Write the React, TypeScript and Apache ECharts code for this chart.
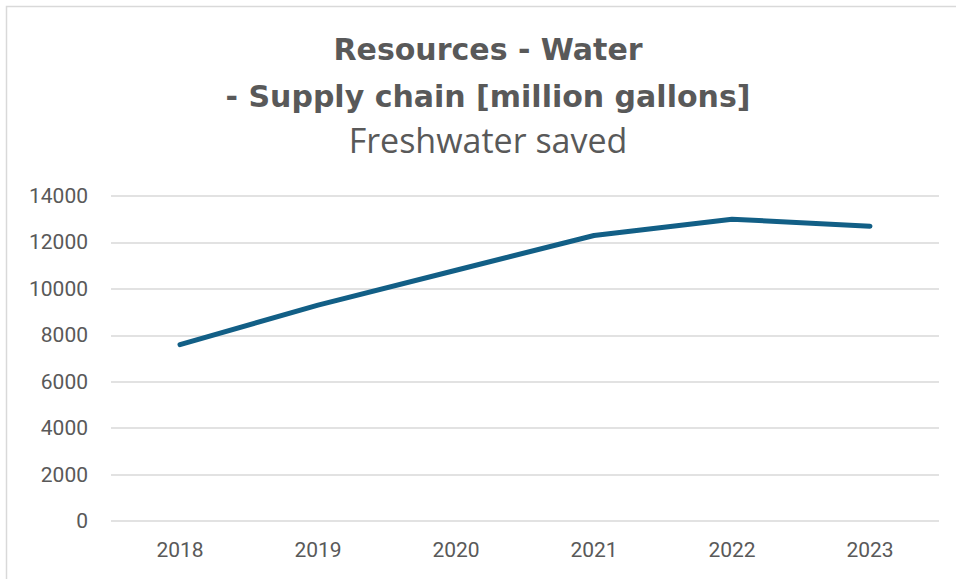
import React, { useEffect, useRef } from "react";
import * as echarts from "echarts";

const years = ["2018", "2019", "2020", "2021", "2022", "2023"];
const freshwaterSaved = [7600, 9300, 10800, 12300, 13000, 12700];
const titleLines = ["Resources - Water", "- Supply chain [million gallons]"];
const subtitle = "Freshwater saved";

export default function App() {
  const ref = useRef<HTMLDivElement>(null);
  useEffect(() => {
    document.body.style.margin = "0";
    const chart = echarts.init(ref.current!, null, { renderer: "svg" });
    chart.setOption({
      animation: false,
      backgroundColor: "#ffffff",
      graphic: [
        {
          type: "rect",
          shape: { x: 6.5, y: 6.5, width: 1000, height: 1000 },
          style: { fill: "none", stroke: "#D9D9D9", lineWidth: 1.5 },
          silent: true,
        },
        {
          type: "text",
          x: 488,
          y: 49,
          style: {
            text: titleLines[0],
            align: "center",
            verticalAlign: "middle",
            font: "bold 30px 'DejaVu Sans'",
            fill: "#595959",
          },
        },
        {
          type: "text",
          x: 488,
          y: 96,
          style: {
            text: titleLines[1],
            align: "center",
            verticalAlign: "middle",
            font: "bold 30px 'DejaVu Sans'",
            fill: "#595959",
          },
        },
        {
          type: "text",
          x: 488,
          y: 140,
          style: {
            text: subtitle,
            align: "center",
            verticalAlign: "middle",
            font: "34px 'Open Sans'",
            fill: "#595959",
          },
        },
      ],
      grid: { left: 111, right: 17, top: 196, bottom: 58, containLabel: false },
      xAxis: {
        type: "category",
        data: years,
        boundaryGap: true,
        axisLine: { show: false },
        axisTick: { show: false },
        axisLabel: { color: "#595959", fontSize: 21, fontFamily: "Roboto", margin: 18 },
      },
      yAxis: {
        type: "value",
        min: 0,
        max: 14000,
        interval: 2000,
        axisLine: { show: false },
        axisTick: { show: false },
        axisLabel: {
          color: "#595959",
          fontSize: 21,
          fontFamily: "Roboto",
          margin: 23,
          formatter: (v: number) => String(v),
        },
        splitLine: { lineStyle: { color: "#D9D9D9", width: 1.5 } },
      },
      series: [
        {
          type: "line",
          data: freshwaterSaved,
          showSymbol: false,
          lineStyle: { color: "#125F86", width: 5, cap: "round", join: "round" },
          itemStyle: { color: "#125F86" },
        },
      ],
    });
    return () => chart.dispose();
  }, []);
  return <div ref={ref} style={{ width: 956, height: 579 }} />;
}
